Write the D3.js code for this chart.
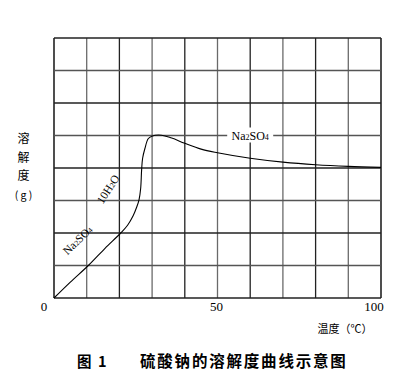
<!DOCTYPE html>
<html><head><meta charset="utf-8">
<script src="https://cdn.jsdelivr.net/npm/d3@7"></script>
<style>
html,body{margin:0;padding:0;background:#fff;}
svg{display:block;}
</style></head>
<body>
<svg id="c" width="415" height="383"></svg>
<script>
// temperature (°C) and solubility (g)
const temps = [0, 5, 10.5, 15.6, 20.4, 22.5, 24.2, 25.3, 26, 26.5, 26.8, 27.1, 27.8, 28.8, 29.9, 32.9, 36, 40, 45, 50, 60, 70, 80, 90, 100];
const solub = [0, 4.9, 10, 15.3, 20, 22.4, 25.3, 28, 30.2, 33.7, 39.5, 43, 46, 49, 49.8, 50.1, 49.2, 47.6, 45.8, 44.7, 43, 41.8, 41, 40.5, 40.2];
const xTicks = [0, 50, 100];
const xTickLabels = ["0", "50", "100"];
const gridX = d3.range(0, 101, 10);
const gridY = d3.range(0, 81, 10);
const yLabelChars = ["溶", "解", "度", "( g )"];
const xTitle = "温度（℃）";
const captionNum = "图 1";
const captionText = "硫酸钠的溶解度曲线示意图";

const svg = d3.select("#c");
const x = d3.scaleLinear().domain([0, 100]).range([54, 381]);
const y = d3.scaleLinear().domain([0, 80]).range([298, 38]);
const serif = "'Liberation Serif','DejaVu Serif',serif";
const cjk = "'Noto Sans CJK SC',sans-serif";

// grid
const g = svg.append("g");
g.selectAll("line.v").data(gridX).join("line")
  .attr("x1", d => x(d)).attr("x2", d => x(d))
  .attr("y1", y(80)).attr("y2", y(0))
  .attr("stroke", (d, i) => (i % 2 ? "#6a6a6a" : "#222")).attr("stroke-width", d => (d === 0 || d === 100) ? 1.6 : 1.3);
g.selectAll("line.h").data(gridY).join("line")
  .attr("x1", x(0)).attr("x2", x(100))
  .attr("y1", d => y(d)).attr("y2", d => y(d))
  .attr("stroke", (d, i) => (i % 2 ? "#555" : "#222")).attr("stroke-width", d => (d === 0) ? 1.6 : 1.3);

// curve
const pts = temps.map((t, i) => [t, solub[i]]);
svg.append("path").datum(pts)
  .attr("d", d3.line().x(d => x(d[0])).y(d => y(d[1])).curve(d3.curveCatmullRom.alpha(0.5)))
  .attr("fill", "none").attr("stroke", "#000").attr("stroke-width", 1.1);

// horizontal Na2SO4 label with white background
const lab = svg.append("g").attr("transform", `translate(${x(60)},${y(50)})`);
lab.append("rect").attr("x", -23).attr("y", -8).attr("width", 46).attr("height", 15).attr("fill", "#fff");
const t1 = lab.append("text").attr("text-anchor", "middle").attr("y", 4)
  .attr("font-family", serif).attr("font-size", 12);
t1.append("tspan").text("Na");
t1.append("tspan").attr("font-size", 8).text("2");
t1.append("tspan").text("SO");
t1.append("tspan").attr("font-size", 8).text("4");

// rotated labels
const t2 = svg.append("text").attr("transform", `translate(${x(7.2)},${y(17.8)}) rotate(-44)`)
  .attr("text-anchor", "middle").attr("y", 4).attr("font-family", serif).attr("font-size", 11.5);
t2.append("tspan").text("Na");
t2.append("tspan").attr("font-size", 7.5).text("2");
t2.append("tspan").text("SO");
t2.append("tspan").attr("font-size", 7.5).text("4");

const t3 = svg.append("text").attr("transform", `translate(${x(16.5)},${y(33.5)}) rotate(-57)`)
  .attr("text-anchor", "middle").attr("y", 4).attr("font-family", serif).attr("font-size", 11.5);
t3.append("tspan").text("10H");
t3.append("tspan").attr("font-size", 7.5).text("2");
t3.append("tspan").text("O");

// x tick labels
const tickDx = [-10, -1, -7];
svg.selectAll("text.xt").data(xTicks).join("text")
  .attr("x", (d, i) => x(d) + tickDx[i]).attr("y", 311)
  .attr("text-anchor", "middle").attr("font-family", serif).attr("font-size", 13)
  .text((d, i) => xTickLabels[i]);

// x title
svg.append("text").attr("x", 345).attr("y", 333).attr("text-anchor", "middle")
  .attr("font-family", cjk).attr("font-size", 11).text(xTitle);

// y title (vertical characters)
svg.selectAll("text.yl").data(yLabelChars).join("text")
  .attr("x", 23.5).attr("y", (d, i) => 143 + i * 18.5)
  .attr("text-anchor", "middle").attr("font-family", cjk)
  .attr("font-size", (d, i) => i < 3 ? 12 : 10.5).text(d => d);

// caption
svg.append("text").attr("x", 77).attr("y", 367).attr("font-family", cjk)
  .attr("font-weight", "bold").attr("font-size", 14.5).text(captionNum.replace(" ", "\u00a0\u00a0"));
svg.append("text").attr("x", 140).attr("y", 367).attr("font-family", cjk)
  .attr("font-weight", "bold").attr("font-size", 15.5).attr("letter-spacing", 1.8).text(captionText);
</script>
</body></html>
